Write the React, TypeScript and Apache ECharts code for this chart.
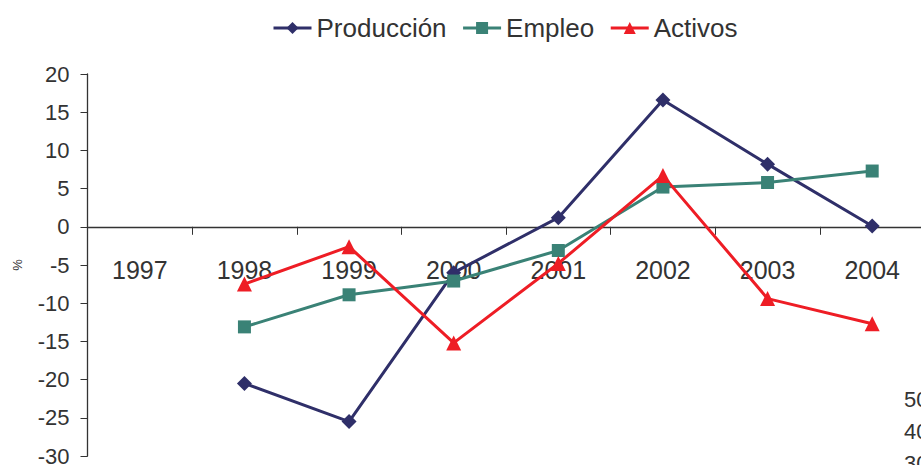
import React, { useEffect, useRef } from "react";
import * as echarts from "echarts";

const years = ["1997", "1998", "1999", "2000", "2001", "2002", "2003", "2004"];
const produccion = [null, -20.5, -25.5, -6.0, 1.2, 16.6, 8.2, 0.1];
const empleo = [null, -13.1, -8.9, -7.1, -3.1, 5.2, 5.8, 7.3];
const activos = [null, -7.5, -2.6, -15.2, -4.8, 6.7, -9.4, -12.7];
const yTicks = { min: -30, max: 20, interval: 5 };
const sideTexts = ["50", "40", "30"];

const TEXT = "#333333";
const FONT = "Liberation Sans, Arial, sans-serif";

export default function App() {
  const ref = useRef<HTMLDivElement>(null);
  useEffect(() => {
    if (!ref.current) return;
    const chart = echarts.init(ref.current, null, { renderer: "svg" });
    const mkSeries = (name: string, data: (number | null)[], color: string, symbol: string, size: number) => ({
      name,
      type: "line",
      data,
      symbol,
      symbolSize: size,
      showAllSymbol: true,
      connectNulls: false,
      lineStyle: { color, width: 3 },
      itemStyle: { color },
      emphasis: { disabled: true },
    });
    chart.setOption({
      animation: false,
      textStyle: { fontFamily: FONT },
      legend: {
        top: 10,
        left: 267,
        itemWidth: 38,
        itemHeight: 15,
        itemGap: 15,
        lineStyle: { width: 3 },
        textStyle: { fontSize: 26, color: TEXT, fontFamily: FONT },
        data: ["Producción", "Empleo", "Activos"],
      },
      grid: { left: 87.5, right: -3.5, top: 74, bottom: 9, containLabel: false, outerBoundsMode: "none" },
      xAxis: {
        type: "category",
        data: years,
        boundaryGap: true,
        axisLine: { onZero: true, lineStyle: { color: TEXT, width: 1.3 } },
        axisTick: { show: true, length: 8, lineStyle: { color: TEXT } },
        axisLabel: { interval: 0, margin: -199, fontSize: 25, color: TEXT, fontFamily: FONT },
        splitLine: { show: false },
      },
      yAxis: {
        type: "value",
        min: yTicks.min,
        max: yTicks.max,
        interval: yTicks.interval,
        name: "%",
        nameLocation: "middle",
        nameRotate: 90,
        nameGap: 64,
        nameTextStyle: { fontSize: 13, color: TEXT, fontFamily: FONT },
        axisLine: { show: true, lineStyle: { color: TEXT, width: 1.3 } },
        axisTick: { show: true, length: 7, lineStyle: { color: TEXT } },
        axisLabel: { margin: 18, fontSize: 22, color: TEXT, fontFamily: FONT },
        splitLine: { show: false },
      },
      graphic: sideTexts.map((t, i) => ({
        type: "text",
        left: 904,
        top: 388 + i * 32,
        style: { text: t, fontSize: 22, fill: TEXT, fontFamily: FONT },
        silent: true,
      })),
      series: [
        mkSeries("Producción", produccion, "#2F2F69", "diamond", 15),
        mkSeries("Empleo", empleo, "#3A8276", "rect", 13),
        mkSeries("Activos", activos, "#EE1D25", "triangle", 15),
      ],
    });
    return () => chart.dispose();
  }, []);
  return (
    <div
      ref={ref}
      style={{ position: "fixed", left: 0, top: 0, width: 921, height: 465, background: "#fff" }}
    />
  );
}
